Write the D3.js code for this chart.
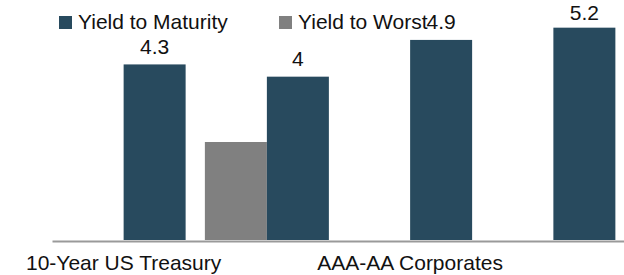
<!DOCTYPE html>
<html>
<head>
<meta charset="utf-8">
<script src="https://cdn.jsdelivr.net/npm/d3@7"></script>
<style>
  body { margin: 0; background: #fff; }
  text { font-family: "Liberation Sans", Arial, sans-serif; fill: #111; }
</style>
</head>
<body>
<div id="chart"></div>
<script>
// chart data
var categories = ["10-Year US Treasury", "Category 2", "AAA-AA Corporates", "Category 4"];
var tickLabels = ["10-Year US Treasury", "", "AAA-AA Corporates", ""];
var seriesNames = ["Yield to Maturity", "Yield to Worst"];
var ytm = [4.3, 4, 4.9, 5.2];
var ytw = [0, 2.4, 0, 0];
var colors = ["#284a5e", "#808080"];

var width = 624, height = 275;

var svg = d3.select("#chart").append("svg")
    .attr("width", width)
    .attr("height", height);

// x: one band per category, bars sit either side of the band centre
var x = d3.scaleBand().domain(categories).range([52, 625]).padding(0);
var barW = 62;
var y = d3.scaleLinear().domain([0, 6]).range([240, -5]);

// legend
var legend = svg.append("g");
var legX = [59, 279];
seriesNames.forEach(function(name, i) {
    legend.append("rect")
        .attr("x", legX[i]).attr("y", 16)
        .attr("width", 13).attr("height", 13)
        .attr("fill", colors[i]);
    legend.append("text")
        .attr("x", legX[i] + 19).attr("y", 28.5)
        .style("font-size", "21px")
        .text(name);
});

// axis
var axis = svg.append("g")
    .attr("transform", "translate(0,241)")
    .call(d3.axisBottom(x).tickSize(0).tickSizeOuter(0).tickPadding(14)
        .tickFormat(function(d, i) { return tickLabels[i]; }));
axis.select(".domain").attr("stroke", "#9a9a9a").attr("stroke-width", 2);
axis.selectAll("text").style("font-size", "21px").attr("fill", "#111")
    .style("font-family", "'Liberation Sans', Arial, sans-serif");

// yield to worst bars (left of centre)
svg.selectAll("rect.ytw")
    .data(ytw)
    .enter().append("rect")
    .attr("class", "ytw")
    .attr("x", function(d, i) { return x(categories[i]) + x.bandwidth() / 2 - barW; })
    .attr("y", function(d) { return y(d); })
    .attr("width", barW)
    .attr("height", function(d) { return y(0) - y(d); })
    .attr("fill", colors[1]);

// yield to maturity bars (right of centre)
svg.selectAll("rect.ytm")
    .data(ytm)
    .enter().append("rect")
    .attr("class", "ytm")
    .attr("x", function(d, i) { return x(categories[i]) + x.bandwidth() / 2; })
    .attr("y", function(d) { return y(d); })
    .attr("width", barW)
    .attr("height", function(d) { return y(0) - y(d); })
    .attr("fill", colors[0]);

// value labels (kept inside the top edge)
svg.selectAll("text.val")
    .data(ytm)
    .enter().append("text")
    .attr("class", "val")
    .attr("x", function(d, i) { return x(categories[i]) + x.bandwidth() / 2 + barW / 2; })
    .attr("y", function(d) { return Math.max(y(d) - 10.5, 19.5); })
    .attr("text-anchor", "middle")
    .style("font-size", "21px")
    .text(function(d) { return d; });
</script>
</body>
</html>
